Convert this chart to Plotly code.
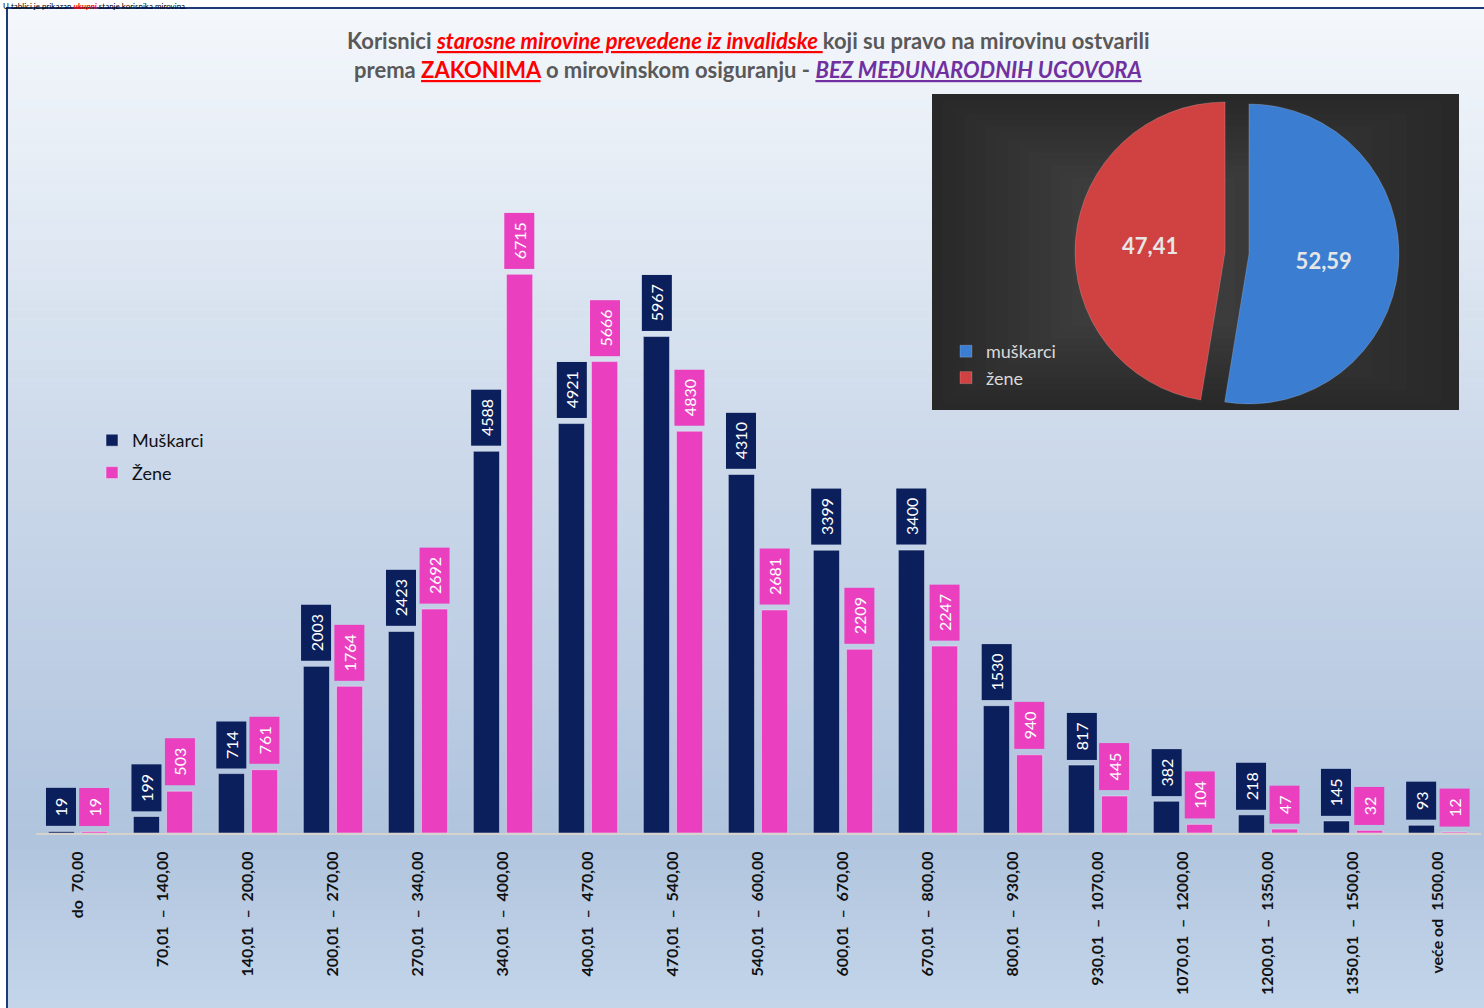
import plotly.graph_objects as go

W, H = 1484, 1008
NB = "\u00a0"

categories = [
    "do" + NB * 2 + "70,00",
    "70,01" + NB * 2 + "–" + NB * 2 + "140,00",
    "140,01" + NB * 2 + "–" + NB * 2 + "200,00",
    "200,01" + NB * 2 + "–" + NB * 2 + "270,00",
    "270,01" + NB * 2 + "–" + NB * 2 + "340,00",
    "340,01" + NB * 2 + "–" + NB * 2 + "400,00",
    "400,01" + NB * 2 + "–" + NB * 2 + "470,00",
    "470,01" + NB * 2 + "–" + NB * 2 + "540,00",
    "540,01" + NB * 2 + "–" + NB * 2 + "600,00",
    "600,01" + NB * 2 + "–" + NB * 2 + "670,00",
    "670,01" + NB * 2 + "–" + NB * 2 + "800,00",
    "800,01" + NB * 2 + "–" + NB * 2 + "930,00",
    "930,01" + NB * 2 + "–" + NB * 2 + "1070,00",
    "1070,01" + NB * 2 + "–" + NB * 2 + "1200,00",
    "1200,01" + NB * 2 + "–" + NB * 2 + "1350,00",
    "1350,01" + NB * 2 + "–" + NB * 2 + "1500,00",
    "veće od" + NB * 2 + "1500,00",
]
muskarci = [19, 199, 714, 2003, 2423, 4588, 4921, 5967, 4310, 3399, 3400, 1530, 817, 382, 218, 145, 93]
zene = [19, 503, 761, 1764, 2692, 6715, 5666, 4830, 2681, 2209, 2247, 940, 445, 104, 47, 32, 12]

pie_labels = ["muškarci", "žene"]
pie_values = [52.59, 47.41]

NAVY = "#0b1f5c"
PINK = "#ea40c0"
FONT = "Lato"


def px_x(p):
    return p / W


def px_y(p):
    return 1 - p / H


fig = go.Figure()
fig.add_trace(go.Bar(name="Muškarci", x=categories, y=muskarci, marker_color=NAVY,
                     legend="legend", legendgroup="m"))
fig.add_trace(go.Bar(name="Žene", x=categories, y=zene, marker_color=PINK,
                     legend="legend", legendgroup="z"))
fig.add_trace(go.Pie(labels=pie_labels, values=pie_values, sort=False, direction="clockwise",
                     rotation=0, pull=[0.08, 0.08],
                     marker=dict(colors=["#3b7dd1", "#d04141"], line=dict(color="rgba(255,255,255,0.18)", width=1)),
                     texttemplate="<b>%{value:.2f}</b>", textposition="inside",
                     insidetextorientation="horizontal",
                     textfont=dict(size=22, color="#e6e6e6", family=FONT),
                     domain=dict(x=[px_x(1075), px_x(1399)], y=[px_y(415), px_y(91)]),
                     legend="legend2", hoverinfo="label+value"))

shapes = []
# background gradient inside the frame
stops = [(0, (245, 248, 252)), (250, (222, 231, 242)), (450, (204, 217, 234)),
         (650, (190, 206, 228)), (840, (176, 196, 222)), (1008, (196, 213, 234))]


def col_at(y):
    for (y0, c0), (y1, c1) in zip(stops[:-1], stops[1:]):
        if y0 <= y <= y1:
            t = (y - y0) / (y1 - y0)
            return tuple(round(a + (b - a) * t) for a, b in zip(c0, c1))
    return stops[-1][1]


N = 100
top, bot = 9, 1010
for k in range(N):
    ya = top + (bot - top) * k / N
    yb = top + (bot - top) * (k + 1) / N
    c = col_at((ya + yb) / 2)
    shapes.append(dict(type="rect", xref="paper", yref="paper", layer="below",
                       x0=px_x(8), x1=px_x(1490), y0=px_y(yb + 0.5), y1=px_y(ya),
                       fillcolor="rgb(%d,%d,%d)" % c, line=dict(width=0)))
# frame border
shapes.append(dict(type="rect", xref="paper", yref="paper", layer="below",
                   x0=px_x(7), x1=px_x(1495), y0=px_y(1015), y1=px_y(8),
                   line=dict(color="#1f3a78", width=2), fillcolor="rgba(0,0,0,0)"))
# pie inset background (soft vignette)
ix0, ix1, iy0, iy1 = 932, 1459, 94, 410
steps = 22
for k in range(steps):
    f = k / steps
    g = round(40 + (72 - 40) * (k / (steps - 1)))
    dx = (ix1 - ix0) * 0.45 * f
    dy = (iy1 - iy0) * 0.45 * f
    shapes.append(dict(type="rect", xref="paper", yref="paper", layer="below",
                       x0=px_x(ix0 + dx), x1=px_x(ix1 - dx * 1.6),
                       y0=px_y(iy1 - dy), y1=px_y(iy0 + dy),
                       fillcolor="rgb(%d,%d,%d)" % (g, g, g), line=dict(width=0)))

annotations = []
# small note above the frame
annotations.append(dict(xref="paper", yref="paper", x=px_x(2), y=px_y(0), xanchor="left", yanchor="top",
                        showarrow=False, font=dict(family=FONT, size=8, color="#000000"), borderpad=0,
                        text="U tablici je prikazan <span style='color:#ff0000'><b><i>ukupni</i></b></span> stanje korisnika mirovina."))
# title
annotations.append(dict(xref="paper", yref="paper", x=px_x(748), y=px_y(41), xanchor="center", yanchor="middle",
                        showarrow=False, font=dict(family=FONT, size=22, color="#595959"),
                        text="<b>Korisnici <span style='color:#ff0000'><i><u>starosne mirovine prevedene iz invalidske </u></i></span>koji su pravo na mirovinu ostvarili</b>"))
annotations.append(dict(xref="paper", yref="paper", x=px_x(748), y=px_y(70), xanchor="center", yanchor="middle",
                        showarrow=False, font=dict(family=FONT, size=22, color="#595959"),
                        text="<b>prema <span style='color:#ff0000'><u>ZAKONIMA</u></span> o mirovinskom osiguranju - <span style='color:#7030a0'><i><u>BEZ MEĐUNARODNIH UGOVORA</u></i></span></b>"))

# value boxes
for vals, color, shift in ((muskarci, NAVY, -16.6), (zene, PINK, 16.6)):
    for c, v in zip(categories, vals):
        annotations.append(dict(x=c, y=v, xref="x", yref="y", xshift=shift, yshift=5,
                                xanchor="center", yanchor="bottom", showarrow=False,
                                text=NB + str(v) + NB, textangle=-90, bgcolor=color, borderpad=5,
                                font=dict(family=FONT, size=16, color="#ffffff")))

fig.update_layout(
    width=W, height=H,
    margin=dict(l=0, r=0, t=0, b=0),
    paper_bgcolor="#ffffff", plot_bgcolor="rgba(0,0,0,0)",
    separators=",.",
    barmode="group", bargap=0.22, bargroupgap=0.21,
    font=dict(family=FONT),
    xaxis=dict(domain=[px_x(35.5), px_x(1480.5)], showgrid=False, showline=True, linecolor="#d6d3cc",
               linewidth=2, ticks="", tickangle=-90, ticklabelstandoff=10,
               tickfont=dict(family=FONT, size=16, color="#111111", weight="bold"), fixedrange=True),
    yaxis=dict(domain=[px_y(833), px_y(167.4)], range=[0, 8000], showgrid=False, zeroline=False,
               showticklabels=False, showline=False, fixedrange=True),
    legend=dict(x=px_x(92), y=px_y(422), xanchor="left", yanchor="top", bgcolor="rgba(0,0,0,0)",
                font=dict(family=FONT, size=18, color="#111111"), tracegroupgap=6, traceorder="grouped"),
    legend2=dict(x=px_x(946), y=px_y(333), xanchor="left", yanchor="top", bgcolor="rgba(0,0,0,0)",
                 font=dict(family=FONT, size=18, color="#d9d9d9")),
    shapes=shapes, annotations=annotations,
)

fig.write_html("out.html", config={"displayModeBar": False},
               post_script="document.body.style.margin='0';document.body.style.overflow='hidden';")
